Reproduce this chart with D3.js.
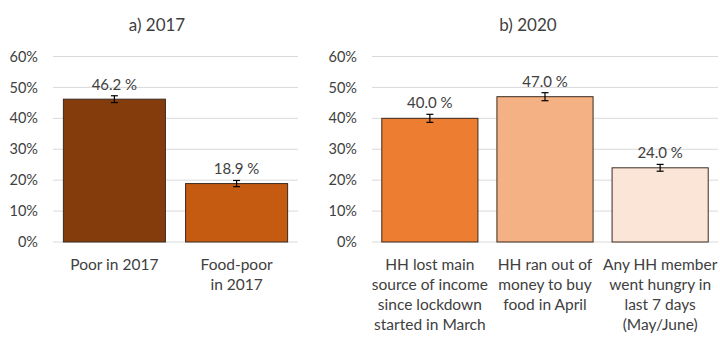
<!DOCTYPE html>
<html>
<head>
<meta charset="utf-8">
<script src="https://cdn.jsdelivr.net/npm/d3@7"></script>
<style>
  body { margin: 0; background: #fff; }
  svg text { font-family: Lato, "Open Sans", sans-serif; fill: #404040; }
</style>
</head>
<body>
<svg width="720" height="344"></svg>
<script>
// Data
const titles = ["a) 2017", "b) 2020"];
const cats2017 = [["Poor in 2017"], ["Food-poor", "in 2017"]];
const vals2017 = [46.2, 18.9];
const err2017 = [1.1, 1.0];
const cats2020 = [
  ["HH lost main", "source of income", "since lockdown", "started in March"],
  ["HH ran out of", "money to buy", "food in April"],
  ["Any HH member", "went hungry in", "last 7 days", "(May/June)"]
];
const vals2020 = [40.0, 47.0, 24.0];
const err2020 = [1.3, 1.3, 1.1];
const yTicks = [0, 10, 20, 30, 40, 50, 60];
const colors2017 = ["#843C0C", "#C55A11"];
const colors2020 = ["#ED7D31", "#F4B183", "#FBE5D6"];

const svg = d3.select("svg");

function panel(title, cats, vals, errs, colors, x0, x1, titleX) {
  const g = svg.append("g");
  const idx = cats.map((d, i) => i);

  const x = d3.scaleBand()
    .domain(idx)
    .range([x0, x1])
    .paddingInner(0.165)
    .paddingOuter(0.085);

  const y = d3.scaleLinear()
    .domain([0, 60])
    .range([242, 56.5]);

  // gridlines
  g.selectAll(".grid")
    .data(yTicks)
    .enter()
    .append("line")
    .attr("x1", x0).attr("x2", x1)
    .attr("y1", d => y(d)).attr("y2", d => y(d))
    .attr("stroke", "#d9d9d9")
    .attr("stroke-width", 1);

  // y axis labels
  const yAxis = g.append("g")
    .attr("transform", `translate(${x0 - 15},0)`)
    .call(d3.axisLeft(y).tickValues(yTicks).tickFormat(d => d + "%").tickSize(0).tickPadding(0));
  yAxis.select(".domain").remove();
  yAxis.selectAll("text")
    .style("font-size", "14.5px")
    .style("font-family", "Lato, sans-serif")
    .attr("fill", "#404040");

  // bars
  g.selectAll(".bar")
    .data(vals)
    .enter()
    .append("rect")
    .attr("x", (d, i) => x(i))
    .attr("y", d => y(d))
    .attr("width", x.bandwidth())
    .attr("height", d => y(0) - y(d))
    .attr("fill", (d, i) => colors[i])
    .attr("stroke", "#3b2a20")
    .attr("stroke-width", 1);

  // error bars
  const cx = i => x(i) + x.bandwidth() / 2;
  vals.forEach((v, i) => {
    const e = errs[i];
    g.append("line")
      .attr("x1", cx(i)).attr("x2", cx(i))
      .attr("y1", y(v - e)).attr("y2", y(v + e))
      .attr("stroke", "#000").attr("stroke-width", 1.2);
    [v - e, v + e].forEach(t => {
      g.append("line")
        .attr("x1", cx(i) - 3.5).attr("x2", cx(i) + 3.5)
        .attr("y1", y(t)).attr("y2", y(t))
        .attr("stroke", "#000").attr("stroke-width", 1.2);
    });
  });

  // value labels
  g.selectAll(".val")
    .data(vals)
    .enter()
    .append("text")
    .attr("x", (d, i) => cx(i))
    .attr("y", (d, i) => y(d + errs[i]) - 6)
    .attr("text-anchor", "middle")
    .style("font-size", "15px")
    .text(d => d.toFixed(1) + " %");

  // category labels
  cats.forEach((lines, i) => {
    const t = g.append("text")
      .attr("text-anchor", "middle")
      .style("font-size", "15.5px");
    lines.forEach((l, j) => {
      t.append("tspan")
        .attr("x", cx(i))
        .attr("y", 270 + j * 20)
        .text(l);
    });
  });

  // title
  g.append("text")
    .attr("x", titleX)
    .attr("y", 31)
    .attr("text-anchor", "middle")
    .style("font-size", "17px")
    .text(title);
}

panel(titles[0], cats2017, vals2017, err2017, colors2017, 53, 298, 157);
panel(titles[1], cats2020, vals2020, err2020, colors2020, 372, 718, 528);
</script>
</body>
</html>
